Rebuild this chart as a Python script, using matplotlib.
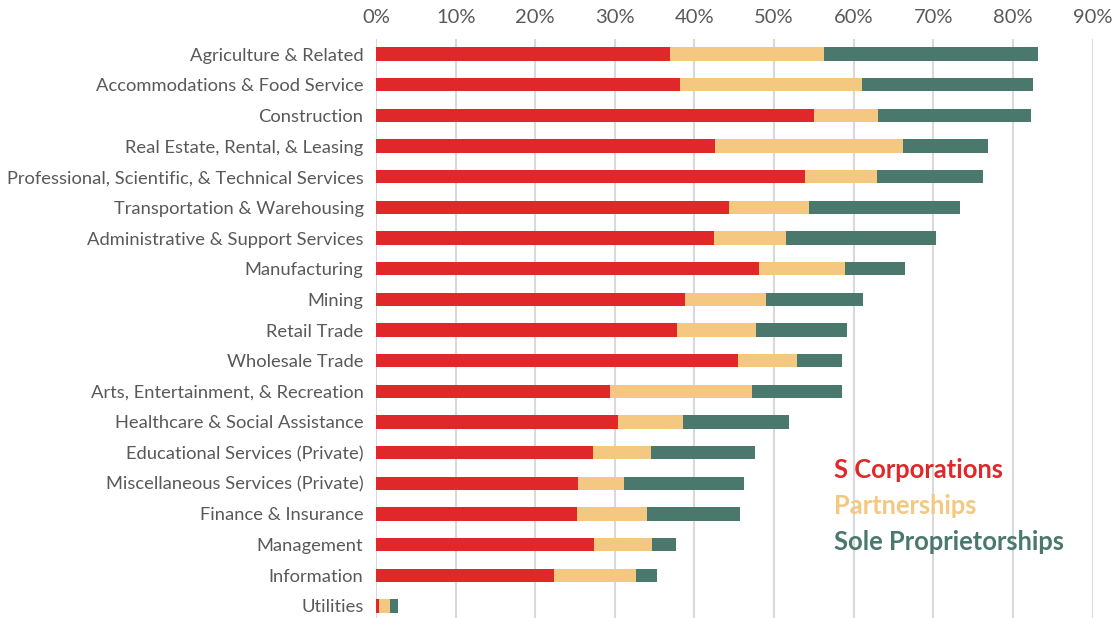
import matplotlib
matplotlib.use("Agg")
import matplotlib.pyplot as plt
from matplotlib.ticker import FixedLocator, FuncFormatter

categories = [
    "Agriculture & Related",
    "Accommodations & Food Service",
    "Construction",
    "Real Estate, Rental, & Leasing",
    "Professional, Scientific, & Technical Services",
    "Transportation & Warehousing",
    "Administrative & Support Services",
    "Manufacturing",
    "Mining",
    "Retail Trade",
    "Wholesale Trade",
    "Arts, Entertainment, & Recreation",
    "Healthcare & Social Assistance",
    "Educational Services (Private)",
    "Miscellaneous Services (Private)",
    "Finance & Insurance",
    "Management",
    "Information",
    "Utilities",
]
s_corps = [36.9, 38.2, 55.0, 42.6, 53.9, 44.4, 42.4, 48.1, 38.8, 37.8,
           45.5, 29.4, 30.4, 27.2, 25.4, 25.2, 27.4, 22.3, 0.4]
partnerships = [19.4, 22.9, 8.1, 23.6, 9.0, 10.0, 9.1, 10.8, 10.2, 9.9,
                7.4, 17.8, 8.2, 7.4, 5.8, 8.9, 7.3, 10.3, 1.4]
sole_props = [26.8, 21.4, 19.2, 10.7, 13.3, 19.0, 18.8, 7.6, 12.2, 11.4,
              5.6, 11.3, 13.3, 13.0, 15.0, 11.6, 3.0, 2.7, 1.0]
series_names = ["S Corporations", "Partnerships", "Sole Proprietorships"]
x_ticks = [0, 10, 20, 30, 40, 50, 60, 70, 80, 90]

RED = "#E0282A"
YELLOW = "#F4C881"
GREEN = "#4A786C"
TEXT = "#595959"

W, H = 1118, 618
fig = plt.figure(figsize=(W / 100, H / 100), dpi=100)
left, right = 376 / W, 1092.5 / W
top_px, bot_px = 38.7, 621.3
ax = fig.add_axes([left, 1 - bot_px / H, right - left, (bot_px - top_px) / H])

y = list(range(len(categories)))
bh = 0.43
ax.barh(y, s_corps, height=bh, color=RED, zorder=3)
left2 = [a for a in s_corps]
ax.barh(y, partnerships, left=left2, height=bh, color=YELLOW, zorder=3)
left3 = [a + b for a, b in zip(s_corps, partnerships)]
ax.barh(y, sole_props, left=left3, height=bh, color=GREEN, zorder=3)

ax.set_xlim(0, 90)
ax.set_ylim(len(categories) - 0.5, -0.5)
ax.xaxis.set_major_locator(FixedLocator(x_ticks))
ax.xaxis.set_major_formatter(FuncFormatter(lambda v, p: f"{v:.0f}%"))
ax.xaxis.tick_top()
ax.tick_params(axis="x", length=0, pad=9, labelsize=14.5, labelcolor=TEXT)
ax.set_yticks(y)
ax.set_yticklabels(categories)
ax.tick_params(axis="y", length=0, pad=9, labelsize=13.2, labelcolor=TEXT)
for lab in ax.get_xticklabels() + ax.get_yticklabels():
    lab.set_fontfamily("Lato")
ax.grid(axis="x", color="#D9D9D9", linewidth=1.5, zorder=0)
ax.set_axisbelow(True)
for s in ax.spines.values():
    s.set_visible(False)

leg_colors = [RED, YELLOW, GREEN]
leg_y = [470, 506, 542]
for name, c, yy in zip(series_names, leg_colors, leg_y):
    fig.text(834 / W, 1 - yy / H, name, color=c, fontsize=18.4, fontweight="bold",
             family="Lato", va="center", ha="left")

fig.savefig("out.png", dpi=100)
